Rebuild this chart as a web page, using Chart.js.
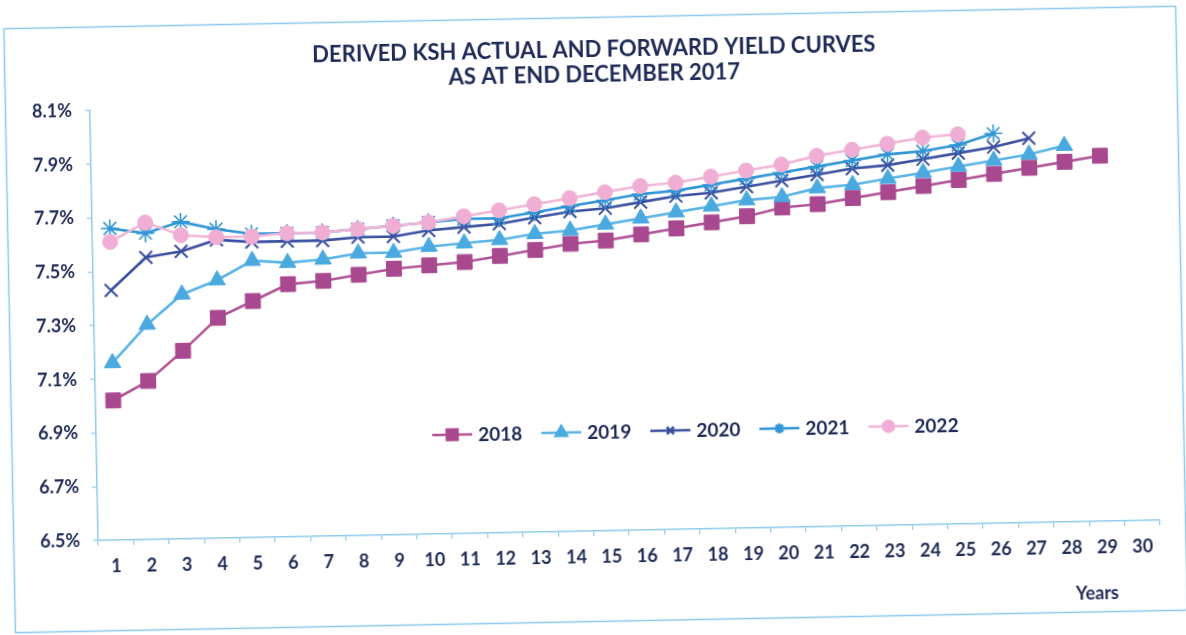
<!DOCTYPE html>
<html>
<head>
<meta charset="utf-8">
<script src="https://cdn.jsdelivr.net/npm/chart.js@4.4.1/dist/chart.umd.min.js"></script>
<style>
  html, body { margin: 0; padding: 0; background: #ffffff; overflow: hidden; }
  #wrap { position: absolute; left: 0; top: 0; width: 1186px; height: 635px;
          transform: rotate(-1.1deg); transform-origin: 593px 317px; }
  canvas { display: block; }
</style>
</head>
<body>
<div id="wrap"><canvas id="c" width="1186" height="635"></canvas></div>
<script>
// Tenor in years (category axis)
const years = ['1','2','3','4','5','6','7','8','9','10','11','12','13','14','15',
               '16','17','18','19','20','21','22','23','24','25','26','27','28','29','30'];

// Yield curves, % per annum
const y2018 = [7.02, 7.09, 7.20, 7.32, 7.38, 7.44, 7.45, 7.47, 7.49, 7.50, 7.51, 7.53, 7.55, 7.57, 7.58,
               7.60, 7.62, 7.64, 7.66, 7.69, 7.70, 7.72, 7.74, 7.76, 7.78, 7.80, 7.82, 7.84, 7.86];
const y2019 = [7.16, 7.30, 7.41, 7.46, 7.53, 7.52, 7.53, 7.55, 7.55, 7.57, 7.58, 7.59, 7.61, 7.62, 7.64,
               7.66, 7.68, 7.70, 7.72, 7.73, 7.76, 7.77, 7.79, 7.81, 7.83, 7.85, 7.87, 7.90];
const y2020 = [7.43, 7.55, 7.57, 7.61, 7.60, 7.60, 7.60, 7.61, 7.61, 7.63, 7.64, 7.65, 7.67, 7.69, 7.70,
               7.72, 7.74, 7.75, 7.77, 7.79, 7.81, 7.83, 7.84, 7.86, 7.88, 7.90, 7.93];
const y2021 = [7.66, 7.64, 7.68, 7.65, 7.63, 7.63, 7.63, 7.64, 7.65, 7.66, 7.67, 7.67, 7.69, 7.71, 7.73,
               7.75, 7.76, 7.78, 7.80, 7.82, 7.84, 7.86, 7.88, 7.89, 7.91, 7.95];
const y2022 = [7.61, 7.68, 7.63, 7.62, 7.62, 7.63, 7.63, 7.64, 7.65, 7.66, 7.68, 7.70, 7.72, 7.74, 7.76,
               7.78, 7.79, 7.81, 7.83, 7.85, 7.88, 7.90, 7.92, 7.94, 7.95];

// Value axis tick marks
const yTickValues = [6.5, 6.7, 6.9, 7.1, 7.3, 7.5, 7.7, 7.9, 8.1];

const seriesNames = ['2018', '2019', '2020', '2021', '2022'];
const titleLines = ['DERIVED KSH ACTUAL AND FORWARD YIELD CURVES', 'AS AT END DECEMBER 2017'];
const xAxisName = 'Years';

const INK = '#1f2a56';
const AXIS = '#8fcbeb';
const FONT = 'Lato, "Open Sans", sans-serif';

function series(label, data, line, fill, style, radius, bw, order, legendRadius) {
  return {
    label, data, order,
    borderColor: line, backgroundColor: fill,
    pointStyle: style, pointRadius: radius, pointHoverRadius: radius,
    pointBackgroundColor: fill, pointBorderColor: fill,
    pointBorderWidth: bw, borderWidth: 2.6, tension: 0, fill: false,
    legendRadius
  };
}

const datasets = [
  series(seriesNames[0], y2018, '#b05497', '#a8488f', 'rect',     10.5, 1,   5, 7.5),
  series(seriesNames[1], y2019, '#5ab4e6', '#4aa9df', 'triangle', 9.5,  1,   4, 6.5),
  series(seriesNames[2], y2020, '#3a4f9f', '#3a4f9f', 'crossRot', 9,    2,   3, 5),
  series(seriesNames[3], y2021, '#2f95d5', '#2f95d5', 'star',     9,    1.6, 2, 5),
  series(seriesNames[4], y2022, '#f2b6d8', '#f0aed4', 'circle',   7.5,  1,   1, 5.5)
];

// Light frame and the two-line heading
const framePlugin = {
  id: 'frame',
  beforeDraw(chart) {
    const ctx = chart.ctx;
    ctx.save();
    ctx.strokeStyle = '#8cc8ec';
    ctx.lineWidth = 1.5;
    ctx.strokeRect(9.5, 17.5, 1172, 604);
    ctx.fillStyle = INK;
    ctx.font = 'bold 22px ' + FONT;
    ctx.textAlign = 'center';
    ctx.textBaseline = 'middle';
    titleLines.forEach((t, i) => ctx.fillText(t, 599, 50 + i * 24.5));
    ctx.restore();
  }
};

// Legend row inside the plot plus the axis name
const insideLegend = {
  id: 'insideLegend',
  afterDraw(chart) {
    const ctx = chart.ctx;
    const area = chart.chartArea;
    ctx.save();
    ctx.font = 'bold 19px ' + FONT;
    ctx.textBaseline = 'middle';
    let x = area.left + 336;
    const y = area.bottom - 99;
    chart.data.datasets.forEach(ds => {
      ctx.strokeStyle = ds.borderColor;
      ctx.lineWidth = 2.6;
      ctx.beginPath();
      ctx.moveTo(x, y);
      ctx.lineTo(x + 40, y);
      ctx.stroke();
      ctx.fillStyle = ds.pointBackgroundColor;
      ctx.strokeStyle = ds.pointBorderColor;
      Chart.helpers.drawPoint(ctx, {
        pointStyle: ds.pointStyle, radius: ds.legendRadius,
        borderWidth: ds.pointBorderWidth, rotation: 0
      }, x + 20, y);
      ctx.fillStyle = INK;
      ctx.textAlign = 'left';
      ctx.fillText(ds.label, x + 46, y + 1);
      x += 46 + ctx.measureText(ds.label).width + 19;
    });
    ctx.font = 'bold 18px ' + FONT;
    ctx.textAlign = 'center';
    ctx.fillText(xAxisName, area.right - 64, area.bottom + 72);
    ctx.restore();
  }
};

new Chart(document.getElementById('c'), {
  type: 'line',
  data: { labels: years, datasets },
  plugins: [framePlugin, insideLegend],
  options: {
    responsive: false,
    animation: false,
    devicePixelRatio: 1,
    layout: { padding: { left: 0, right: 30, top: 101, bottom: 0 } },
    plugins: {
      legend: { display: false },
      tooltip: { enabled: false },
      title: { display: false }
    },
    scales: {
      x: {
        type: 'category',
        offset: true,
        afterFit(scale) { scale.height = 104; },
        grid: { display: true, drawOnChartArea: false, drawTicks: true, tickLength: 5,
                offset: true, color: AXIS, lineWidth: 1.2 },
        border: { display: true, color: AXIS, width: 1.5 },
        ticks: { color: INK, font: { family: FONT, size: 18, weight: 'bold' },
                 padding: 10, maxRotation: 0, autoSkip: false }
      },
      y: {
        min: yTickValues[0],
        max: yTickValues[yTickValues.length - 1],
        afterFit(scale) { scale.width = 94; },
        afterBuildTicks(scale) { scale.ticks = yTickValues.map(v => ({ value: v })); },
        grid: { display: true, drawOnChartArea: false, drawTicks: true, tickLength: 5,
                color: AXIS, lineWidth: 1.2 },
        border: { display: true, color: AXIS, width: 1.5 },
        ticks: { color: INK, font: { family: FONT, size: 18, weight: 'bold' }, padding: 13,
                 callback: v => Number(v).toFixed(1) + '%' }
      }
    }
  }
});
</script>
</body>
</html>
